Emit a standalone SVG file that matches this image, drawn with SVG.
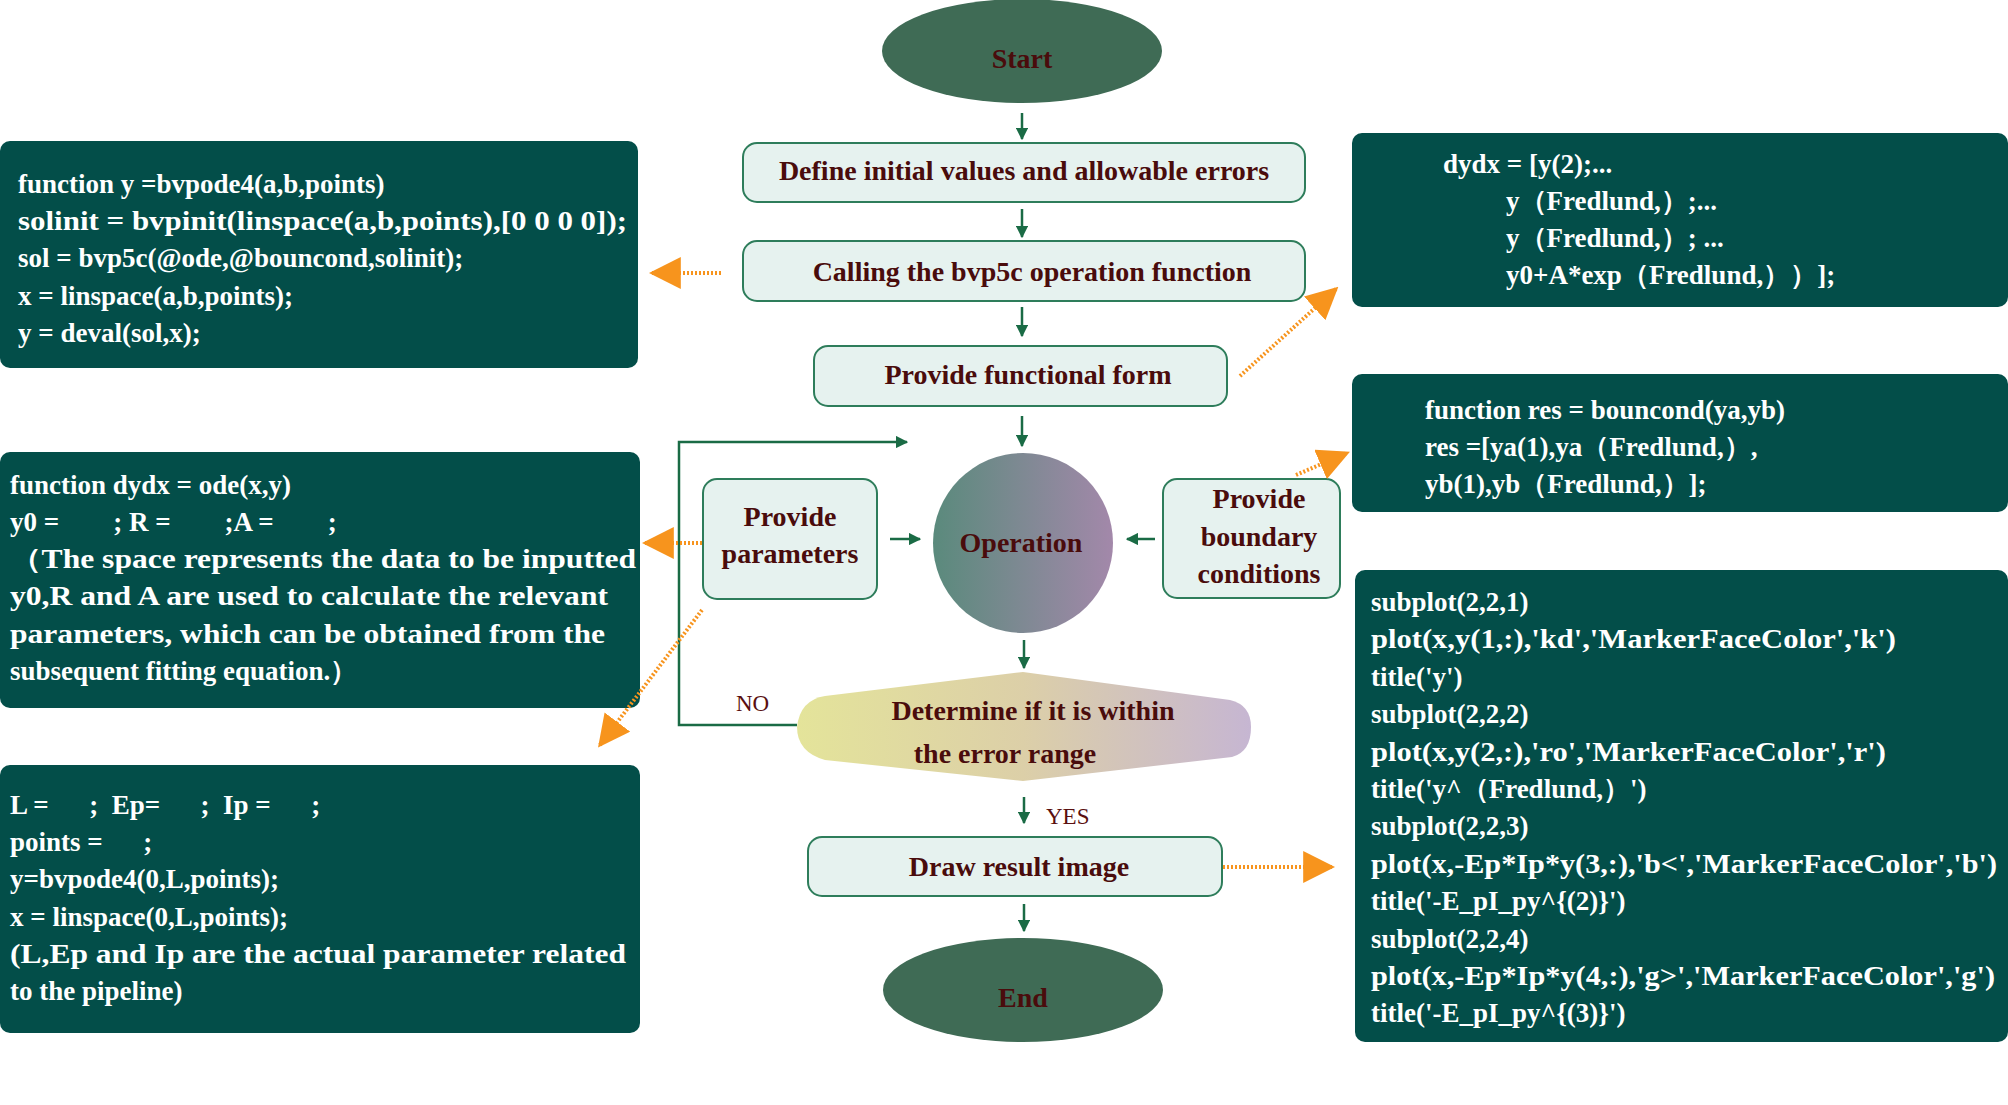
<svg xmlns="http://www.w3.org/2000/svg" width="2008" height="1105" viewBox="0 0 2008 1105">
<style>
.code{fill:#034e49;}
.ct{font-family:"Liberation Serif",serif;font-weight:bold;font-size:27px;fill:#ffffff;}
.fb{fill:#e6f2ef;stroke:#2e7d5b;stroke-width:2;}
.ft{font-family:"Liberation Serif",serif;font-weight:bold;font-size:28px;fill:#4a0c0c;text-anchor:middle;}
.ell{fill:#3f6b55;}
.g{stroke:#1a6b45;stroke-width:2.5;fill:none;}
.o{stroke:#f7941d;stroke-width:4;stroke-dasharray:2 2;fill:none;}
</style>
<defs>
<marker id="ga" viewBox="0 0 10 10" refX="9" refY="5" markerWidth="5" markerHeight="5" orient="auto"><path d="M0,0L10,5L0,10z" fill="#1a6b45"/></marker>
<marker id="oa" viewBox="0 0 10 10" refX="9" refY="5" markerWidth="6" markerHeight="6" orient="auto" markerUnits="userSpaceOnUse"><path d="M0,0L10,5L0,10z" fill="#f7941d"/></marker>
<marker id="ob" viewBox="0 0 10 10" refX="9" refY="5" markerWidth="8" markerHeight="8" orient="auto"><path d="M0,0L10,5L0,10z" fill="#f7941d"/></marker>
<linearGradient id="opg" x1="0" y1="0" x2="1" y2="0"><stop offset="0" stop-color="#5a8a7c"/><stop offset="1" stop-color="#a388aa"/></linearGradient>
<linearGradient id="dg" x1="0" y1="0" x2="1" y2="0"><stop offset="0" stop-color="#e4e49a"/><stop offset="0.5" stop-color="#dccfa8"/><stop offset="1" stop-color="#c6b6d2"/></linearGradient>
</defs>

<g id="start"><ellipse class="ell" cx="1022" cy="51" rx="140" ry="52"/><text class="ft" x="1022" y="68" font-size="52">Start</text></g>
<g id="define"><rect class="fb" x="743" y="143" width="562" height="59" rx="14"/><text class="ft" x="1024" y="180">Define initial values and allowable errors</text></g>
<g id="calling"><rect class="fb" x="743" y="241" width="562" height="60" rx="14"/><text class="ft" x="1032" y="281">Calling the bvp5c operation function</text></g>
<g id="form"><rect class="fb" x="814" y="346" width="413" height="60" rx="14"/><text class="ft" x="1028" y="384">Provide functional form</text></g>
<g id="operation"><circle cx="1023" cy="543" r="90" fill="url(#opg)"/><text class="ft" x="1021" y="552" font-size="34">Operation</text></g>
<g id="params"><rect class="fb" x="703" y="479" width="174" height="120" rx="14"/><text class="ft" x="790" y="526">Provide</text><text class="ft" x="790" y="563">parameters</text></g>
<g id="boundary"><rect class="fb" x="1163" y="479" width="177" height="119" rx="14"/><text class="ft" x="1259" y="508">Provide</text><text class="ft" x="1259" y="546">boundary</text><text class="ft" x="1259" y="583">conditions</text></g>
<g id="decision"><path d="M797,727 Q800,700 825,696 L1023,672 L1230,700 Q1251,705 1251,727 Q1251,752 1232,757 L1023,781 L825,760 Q797,752 797,727z" fill="url(#dg)"/><text class="ft" x="1033" y="720" font-size="31">Determine if it is within</text><text class="ft" x="1005" y="763" font-size="31">the error range</text></g>
<g id="draw"><rect class="fb" x="808" y="837" width="414" height="59" rx="14"/><text class="ft" x="1019" y="876" font-size="30">Draw result image</text></g>
<g id="end"><ellipse class="ell" cx="1023" cy="990" rx="140" ry="52"/><text class="ft" x="1023" y="1007" font-size="52">End</text></g>

<g id="code1"><rect class="code" x="0" y="141" width="638" height="227" rx="10"/>
<text class="ct" x="18" y="193">function y =bvpode4(a,b,points)</text>
<text class="ct" x="18" y="230" textLength="609" lengthAdjust="spacingAndGlyphs">solinit = bvpinit(linspace(a,b,points),[0 0 0 0]);</text>
<text class="ct" x="18" y="267">sol = bvp5c(@ode,@bouncond,solinit);</text>
<text class="ct" x="18" y="305">x = linspace(a,b,points);</text>
<text class="ct" x="18" y="342">y = deval(sol,x);</text></g>

<g id="code2"><rect class="code" x="0" y="452" width="640" height="256" rx="10"/>
<text class="ct" x="10" y="494">function dydx = ode(x,y)</text>
<text class="ct" x="10" y="531" xml:space="preserve">y0 =        ; R =        ;A =        ;</text>
<text class="ct" x="10" y="568" textLength="626" lengthAdjust="spacingAndGlyphs">（The space represents the data to be inputted</text>
<text class="ct" x="10" y="605" textLength="598" lengthAdjust="spacingAndGlyphs">y0,R and A are used to calculate the relevant</text>
<text class="ct" x="10" y="643" textLength="595" lengthAdjust="spacingAndGlyphs">parameters, which can be obtained from the</text>
<text class="ct" x="10" y="680">subsequent fitting equation.）</text></g>

<g id="code3"><rect class="code" x="0" y="765" width="640" height="268" rx="10"/>
<text class="ct" x="10" y="814" xml:space="preserve">L =      ;  Ep=      ;  Ip =      ;</text>
<text class="ct" x="10" y="851" xml:space="preserve">points =      ;</text>
<text class="ct" x="10" y="888">y=bvpode4(0,L,points);</text>
<text class="ct" x="10" y="926">x = linspace(0,L,points);</text>
<text class="ct" x="10" y="963" textLength="616" lengthAdjust="spacingAndGlyphs">(L,Ep and Ip are  the actual parameter related</text>
<text class="ct" x="10" y="1000">to the pipeline)</text></g>

<g id="right1"><rect class="code" x="1352" y="133" width="656" height="174" rx="10"/>
<text class="ct" x="1443" y="173">dydx = [y(2);...</text>
<text class="ct" x="1506" y="210">y（Fredlund,）;...</text>
<text class="ct" x="1506" y="247">y（Fredlund,）; ...</text>
<text class="ct" x="1506" y="284">y0+A*exp（Fredlund,））];</text></g>

<g id="right2"><rect class="code" x="1352" y="374" width="656" height="138" rx="10"/>
<text class="ct" x="1425" y="419">function res = bouncond(ya,yb)</text>
<text class="ct" x="1425" y="456">res =[ya(1),ya（Fredlund,）,</text>
<text class="ct" x="1425" y="493">yb(1),yb（Fredlund,）];</text></g>

<g id="right3"><rect class="code" x="1355" y="570" width="653" height="472" rx="10"/>
<text class="ct" x="1371" y="611">subplot(2,2,1)</text>
<text class="ct" x="1371" y="648" textLength="525" lengthAdjust="spacingAndGlyphs">plot(x,y(1,:),'kd','MarkerFaceColor','k')</text>
<text class="ct" x="1371" y="686">title('y')</text>
<text class="ct" x="1371" y="723">subplot(2,2,2)</text>
<text class="ct" x="1371" y="761" textLength="515" lengthAdjust="spacingAndGlyphs">plot(x,y(2,:),'ro','MarkerFaceColor','r')</text>
<text class="ct" x="1371" y="798">title('y^（Fredlund,）')</text>
<text class="ct" x="1371" y="835">subplot(2,2,3)</text>
<text class="ct" x="1371" y="873" textLength="626" lengthAdjust="spacingAndGlyphs">plot(x,-Ep*Ip*y(3,:),'b&lt;','MarkerFaceColor','b')</text>
<text class="ct" x="1371" y="910">title('-E_pI_py^{(2)}')</text>
<text class="ct" x="1371" y="948">subplot(2,2,4)</text>
<text class="ct" x="1371" y="985" textLength="624" lengthAdjust="spacingAndGlyphs">plot(x,-Ep*Ip*y(4,:),'g&gt;','MarkerFaceColor','g')</text>
<text class="ct" x="1371" y="1022">title('-E_pI_py^{(3)}')</text></g>

<g id="connectors">
<line class="g" x1="1022" y1="113" x2="1022" y2="139" marker-end="url(#ga)"/>
<line class="g" x1="1022" y1="209" x2="1022" y2="237" marker-end="url(#ga)"/>
<line class="g" x1="1022" y1="307" x2="1022" y2="336" marker-end="url(#ga)"/>
<line class="g" x1="1022" y1="416" x2="1022" y2="446" marker-end="url(#ga)"/>
<line class="g" x1="1024" y1="640" x2="1024" y2="668" marker-end="url(#ga)"/>
<line class="g" x1="1024" y1="797" x2="1024" y2="823" marker-end="url(#ga)"/>
<line class="g" x1="1024" y1="904" x2="1024" y2="931" marker-end="url(#ga)"/>
<polyline class="g" points="797,725 679,725 679,442 907,442" marker-end="url(#ga)"/>
<line class="g" x1="890" y1="539" x2="920" y2="539" marker-end="url(#ga)"/>
<line class="g" x1="1155" y1="539" x2="1127" y2="539" marker-end="url(#ga)"/>
<line class="o" x1="721" y1="273" x2="652" y2="273" marker-end="url(#ob)"/>
<line class="o" x1="1240" y1="376" x2="1336" y2="289" marker-end="url(#ob)"/>
<line class="o" x1="702" y1="543" x2="645" y2="543" marker-end="url(#ob)"/>
<line class="o" x1="702" y1="610" x2="600" y2="745" marker-end="url(#ob)"/>
<line class="o" x1="1296" y1="475" x2="1347" y2="453" marker-end="url(#ob)"/>
<line class="o" x1="1223" y1="867" x2="1332" y2="867" marker-end="url(#ob)"/>
<text x="736" y="711" font-family="Liberation Serif,serif" font-size="23" fill="#5a1010">NO</text>
<text x="1046" y="824" font-family="Liberation Serif,serif" font-size="23" fill="#5a1010">YES</text>
</g>
</svg>
